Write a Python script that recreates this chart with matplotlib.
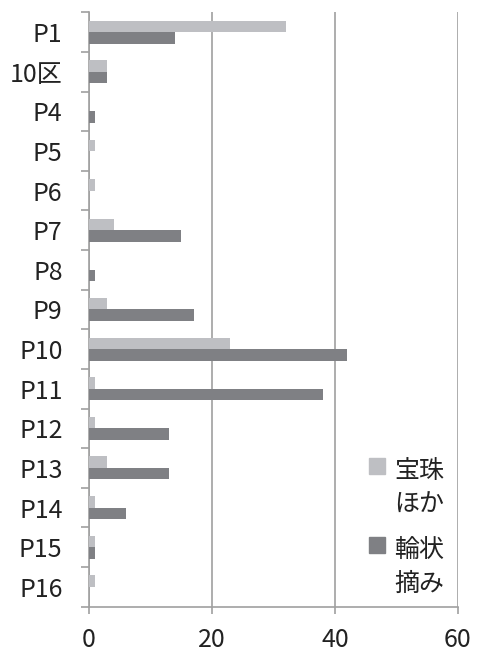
import matplotlib
matplotlib.use('Agg')
import matplotlib.pyplot as plt
from matplotlib.patches import Rectangle
from matplotlib.legend_handler import HandlerPatch
import numpy as np

plt.rcParams['font.family'] = ['Noto Sans CJK JP', 'DejaVu Sans']

categories = ['P1', '10区', 'P4', 'P5', 'P6', 'P7', 'P8', 'P9', 'P10',
              'P11', 'P12', 'P13', 'P14', 'P15', 'P16']
hoju = [32, 3, 0, 1, 1, 4, 0, 3, 23, 1, 1, 3, 1, 1, 1]
rinjo = [14, 3, 1, 0, 0, 15, 1, 17, 42, 38, 13, 13, 6, 1, 0]
series_names = ['宝珠\nほか', '輪状\n摘み']
colors = ['#BEBFC3', '#7F8084']
xticks = [0, 20, 40, 60]

fig = plt.figure(figsize=(4.81, 6.55), dpi=100)
ax = fig.add_axes([0.185, 0.074, 0.767, 0.907])

y = np.arange(len(categories))
h = 0.29
ax.barh(y - h / 2, hoju, height=h, color=colors[0], zorder=3)
ax.barh(y + h / 2, rinjo, height=h, color=colors[1], zorder=3)

ax.set_xlim(0, 60)
ax.set_ylim(len(categories) - 0.5, -0.5)
ax.set_xticks(xticks)
ax.xaxis.grid(True, color='#A0A0A0', linewidth=1.2, zorder=0)

# category ticks sit between bars, labels at centers
ax.set_yticks(np.arange(-0.5, len(categories)), labels=[''] * (len(categories) + 1))
ax.set_yticks(y, labels=categories, minor=True)
ax.tick_params(axis='y', which='major', length=6, width=1.2, color='#A0A0A0', direction='out')
ax.tick_params(axis='y', which='minor', length=0, labelsize=18, pad=19, labelcolor='#222222')
ax.tick_params(axis='x', length=5, width=1.2, color='#A0A0A0', labelsize=18, pad=10,
               labelcolor='#222222')

for s in ['top', 'right']:
    ax.spines[s].set_visible(False)
for s in ['left', 'bottom']:
    ax.spines[s].set_color('#A0A0A0')
    ax.spines[s].set_linewidth(1.2)


# square marker next to the first line of the two-line label
def top_square(legend, orig_handle, xdescent, ydescent, width, height, fontsize):
    s = width
    return Rectangle((-xdescent, -ydescent + height - s + 0.26 * fontsize), s, s)


handles = [Rectangle((0, 0), 1, 1, color=c) for c in colors]
leg = ax.legend(handles, series_names, loc='lower right', bbox_to_anchor=(0.99, 0.0),
                frameon=False, prop={'size': 18},
                handlelength=0.65, handleheight=2.8, handletextpad=0.35, labelspacing=0.76,
                borderaxespad=0.0,
                handler_map={Rectangle: HandlerPatch(patch_func=top_square)})
for t in leg.get_texts():
    t.set_linespacing(1.4)
    t.set_color('#222222')

fig.savefig('out.png', dpi=100)
